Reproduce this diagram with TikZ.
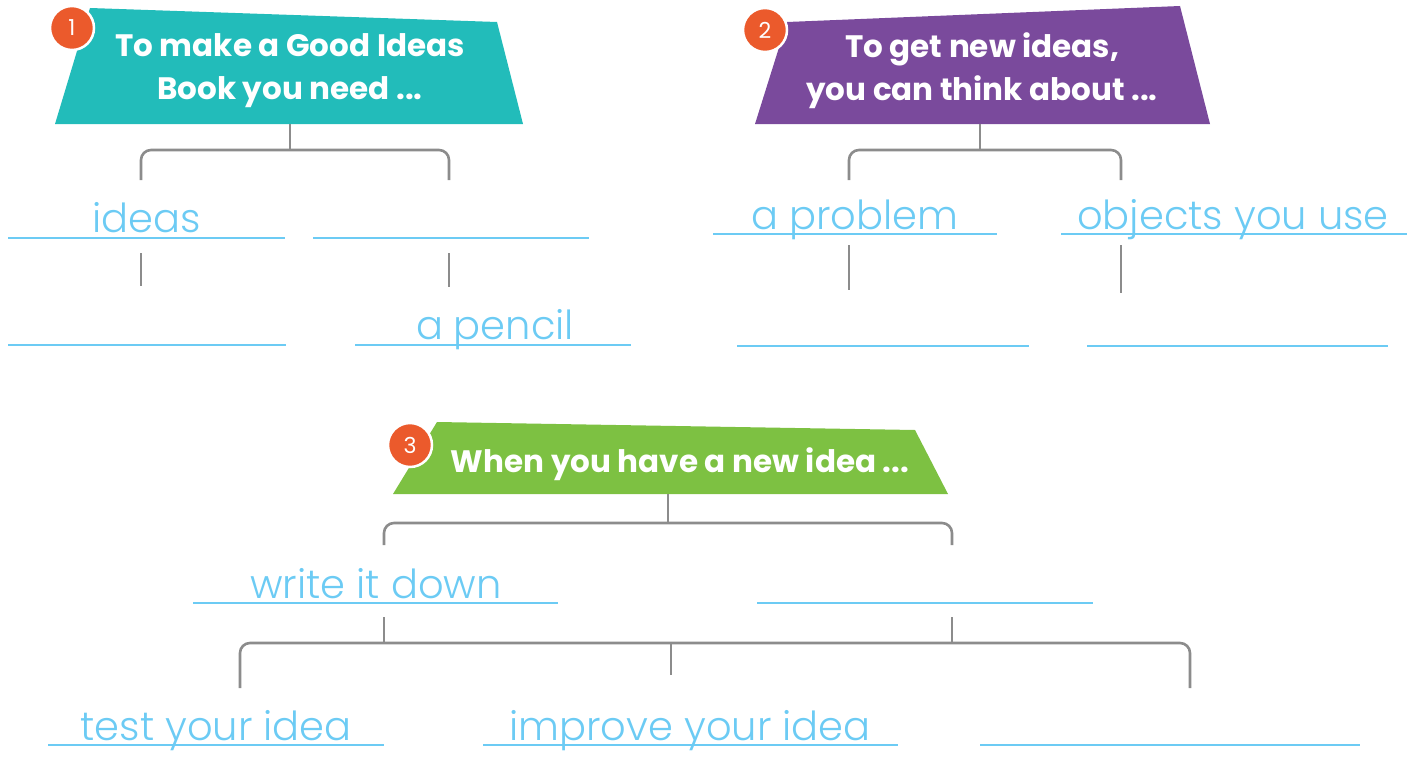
\documentclass[tikz,border=0pt]{standalone}
\usepackage{fontspec}
\setmainfont{Poppins}
\newfontfamily\hand{Poppins Light}
\definecolor{teal1}{HTML}{22BCBA}
\definecolor{purp}{HTML}{7A4A9C}
\definecolor{grn}{HTML}{7DC142}
\definecolor{badge}{HTML}{EB5A2C}
\definecolor{conn}{HTML}{8C8C8C}
\definecolor{blank}{HTML}{6CCBF4}
\tikzset{
  conline/.style={draw=conn, line width=2.6pt},
  bracket/.style={draw=conn, line width=2.6pt, rounded corners=10pt},
  blankline/.style={draw=blank, line width=1.8pt},
  answer/.style={font=\hand\fontsize{40}{44}\selectfont, text=blank, anchor=base, inner sep=0pt},
  titletext/.style={font=\bfseries\fontsize{31}{43}\selectfont, text=white, align=center},
  badgenode/.style={circle, fill=badge, draw=white, line width=2.5pt, minimum size=44pt, inner sep=0pt, text=white, font=\fontsize{22}{24}\selectfont},
}
\begin{document}
\begin{tikzpicture}[x=1pt,y=-1pt]
\useasboundingbox (0,0) rectangle (1415,760);
% ---------- Box 1 ----------
\fill[teal1] (90,8) -- (497,22) -- (523,124) -- (55,124) -- cycle;
\node[titletext] (t1) at (290,71) {To make a Good Ideas\\Book you need ...};
\node[badgenode] (b1) at (72,28) {1};
\coordinate (t1b) at (290,124);
\coordinate (t1j) at (290,150);
\coordinate (t1l) at (141,180);
\coordinate (t1r) at (449,180);
\draw[conline] (t1b) -- (t1j);
\draw[bracket] (t1l) |- (t1j) -| (t1r);
% blanks row 1
\coordinate (a1) at (8,238);   \coordinate (a2) at (285,238);
\coordinate (c1) at (313,238); \coordinate (c2) at (589,238);
\draw[blankline] (a1) -- (a2);
\draw[blankline] (c1) -- (c2);
\node[answer] (ideas) at (147,232) {ideas};
\coordinate (k1a) at (141,253); \coordinate (k1b) at (141,286);
\coordinate (k2a) at (449,253); \coordinate (k2b) at (449,287);
\draw[conline] (k1a) -- (k1b);
\draw[conline] (k2a) -- (k2b);
\coordinate (d1) at (8,345);   \coordinate (d2) at (286,345);
\coordinate (e1) at (355,345); \coordinate (e2) at (631,345);
\draw[blankline] (d1) -- (d2);
\draw[blankline] (e1) -- (e2);
\node[answer] (pencil) at (495,339) {a pencil};
% ---------- Box 2 ----------
\fill[purp] (787,22) -- (1180,6) -- (1210,124) -- (755,124) -- cycle;
\node[titletext] (t2) at (982,71) {To get new ideas,\\you can think about ...};
\node[badgenode] (b2) at (765,30) {2};
\coordinate (t2b) at (980,124);
\coordinate (t2j) at (980,150);
\coordinate (t2l) at (849,180);
\coordinate (t2r) at (1121,180);
\draw[conline] (t2b) -- (t2j);
\draw[bracket] (t2l) |- (t2j) -| (t2r);
\coordinate (f1) at (713,234);  \coordinate (f2) at (997,234);
\coordinate (g1) at (1061,234); \coordinate (g2) at (1407,234);
\draw[blankline] (f1) -- (f2);
\draw[blankline] (g1) -- (g2);
\node[answer] (problem) at (855,229) {a problem};
\node[answer] (objects) at (1233,229) {objects you use};
\coordinate (k3a) at (849,245); \coordinate (k3b) at (849,290);
\coordinate (k4a) at (1121,245); \coordinate (k4b) at (1121,293);
\draw[conline] (k3a) -- (k3b);
\draw[conline] (k4a) -- (k4b);
\coordinate (h1) at (737,346);  \coordinate (h2) at (1029,346);
\coordinate (i1) at (1087,346); \coordinate (i2) at (1388,346);
\draw[blankline] (h1) -- (h2);
\draw[blankline] (i1) -- (i2);
% ---------- Box 3 ----------
\fill[grn] (437,422) -- (915,430) -- (948,494) -- (393,494) -- cycle;
\node[titletext] (t3) at (680,464) {When you have a new idea ...};
\node[badgenode] (b3) at (410,445) {3};
\coordinate (t3b) at (668,494);
\coordinate (t3j) at (668,523);
\coordinate (t3l) at (384,545);
\coordinate (t3r) at (952,545);
\draw[conline] (t3b) -- (t3j);
\draw[bracket] (t3l) |- (t3j) -| (t3r);
\coordinate (m1) at (193,603); \coordinate (m2) at (558,603);
\coordinate (n1) at (757,603); \coordinate (n2) at (1093,603);
\draw[blankline] (m1) -- (m2);
\draw[blankline] (n1) -- (n2);
\node[answer] (write) at (376,598) {write it down};
\coordinate (k5a) at (384,617); \coordinate (k5b) at (384,643);
\coordinate (k6a) at (952,617); \coordinate (k6b) at (952,643);
\draw[conline] (k5a) -- (k5b);
\draw[conline] (k6a) -- (k6b);
\coordinate (q1) at (240,688); \coordinate (q2) at (1190,688);
\coordinate (qj) at (671,643);
\coordinate (qm) at (671,675);
\draw[bracket] (q1) |- (qj) -| (q2);
\draw[conline] (qj) -- (qm);
\coordinate (r1) at (48,745);  \coordinate (r2) at (384,745);
\coordinate (s1) at (483,745); \coordinate (s2) at (898,745);
\coordinate (u1) at (980,745); \coordinate (u2) at (1360,745);
\draw[blankline] (r1) -- (r2);
\draw[blankline] (s1) -- (s2);
\draw[blankline] (u1) -- (u2);
\node[answer] (test) at (216,740) {test your idea};
\node[answer] (improve) at (690,740) {improve your idea};
\end{tikzpicture}
\end{document}
